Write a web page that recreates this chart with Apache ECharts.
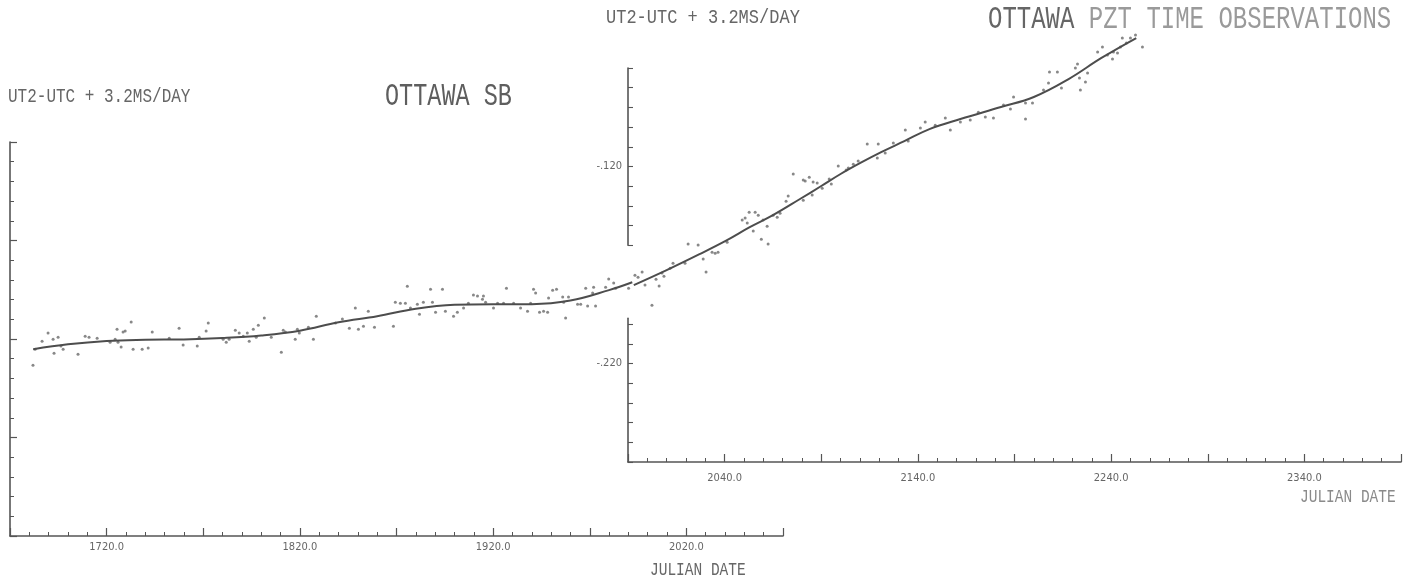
<!DOCTYPE html>
<html>
<head>
<meta charset="utf-8">
<title>Ottawa SB and PZT time observations</title>
<script src="https://cdn.jsdelivr.net/npm/echarts@6/dist/echarts.min.js"></script>
<style>
  html, body { margin: 0; padding: 0; background: #ffffff; }
  #chart { width: 1414px; height: 581px; }
</style>
</head>
<body>
<div id="chart"></div>
<script>
// ---- Ottawa SB (left panel): smoothed fit and individual nights ----
const sbFitDates  = [1682, 1700, 1720, 1740, 1760, 1780, 1800, 1820, 1840, 1860, 1880, 1900, 1920, 1940, 1960, 1980, 1992];
const sbFitValues = [-0.2052, -0.2027, -0.2010, -0.2004, -0.2002, -0.1995, -0.1982, -0.1958, -0.1915, -0.1884, -0.1846, -0.1826, -0.1823, -0.1823, -0.1805, -0.1752, -0.1712];

const sbObsDates = [
  1681.9, 1683.0, 1686.6, 1689.7, 1692.3, 1692.8, 1694.9, 1696.4, 1697.5, 1705.2,
  1708.9, 1710.9, 1715.1, 1721.8, 1724.4, 1725.4, 1725.9, 1727.5, 1728.5, 1729.6,
  1732.7, 1733.7, 1738.4, 1741.5, 1743.6, 1752.4, 1757.5, 1759.6, 1766.9, 1767.9,
  1771.5, 1772.6, 1780.3, 1781.9, 1783.4, 1786.6, 1788.6, 1790.7, 1792.8, 1793.8,
  1795.9, 1797.4, 1798.5, 1801.6, 1805.2, 1810.4, 1811.4, 1812.5, 1817.6, 1818.7,
  1819.7, 1824.4, 1827.0, 1828.5, 1838.4, 1842.0, 1845.6, 1848.7, 1850.3, 1852.9,
  1855.4, 1858.6, 1868.4, 1869.4, 1872.0, 1874.6, 1875.6, 1877.2, 1880.8, 1881.9,
  1883.9, 1887.6, 1888.6, 1890.2, 1893.8, 1895.3, 1899.5, 1901.5, 1904.7, 1907.2,
  1909.8, 1911.9, 1914.5, 1915.0, 1916.1, 1920.2, 1922.3, 1925.4, 1926.9, 1930.6,
  1934.2, 1937.8, 1939.4, 1940.9, 1942.0, 1944.0, 1946.1, 1948.2, 1948.7, 1950.8,
  1952.8, 1956.0, 1956.5, 1957.5, 1959.0, 1963.7, 1965.3, 1967.9, 1968.9, 1971.5,
  1972.0, 1973.0, 1978.2, 1979.8, 1982.4, 1983.4, 1990.1
];
const sbObsValues = [
  -0.2133, -0.2052, -0.2011, -0.1970, -0.2001, -0.2072, -0.1991, -0.2036, -0.2052, -0.2077,
  -0.1986, -0.1991, -0.1996, -0.2016, -0.2001, -0.1950, -0.2016, -0.2041, -0.1965, -0.1960,
  -0.1914, -0.2052, -0.2052, -0.2046, -0.1965, -0.1996, -0.1945, -0.2031, -0.2036, -0.1991,
  -0.1960, -0.1919, -0.2001, -0.2016, -0.2001, -0.1955, -0.1970, -0.1986, -0.1970, -0.2011,
  -0.1950, -0.1991, -0.1930, -0.1894, -0.1991, -0.2067, -0.1955, -0.1965, -0.2001, -0.1950,
  -0.1970, -0.1940, -0.2001, -0.1884, -0.1919, -0.1899, -0.1945, -0.1843, -0.1950, -0.1935,
  -0.1859, -0.1940, -0.1935, -0.1813, -0.1818, -0.1818, -0.1732, -0.1843, -0.1823, -0.1874,
  -0.1813, -0.1747, -0.1813, -0.1864, -0.1747, -0.1859, -0.1884, -0.1864, -0.1843, -0.1818,
  -0.1777, -0.1782, -0.1798, -0.1782, -0.1813, -0.1843, -0.1818, -0.1818, -0.1742, -0.1818,
  -0.1843, -0.1859, -0.1818, -0.1747, -0.1767, -0.1864, -0.1859, -0.1864, -0.1792, -0.1752,
  -0.1747, -0.1787, -0.1813, -0.1894, -0.1787, -0.1823, -0.1823, -0.1742, -0.1833, -0.1767,
  -0.1737, -0.1833, -0.1737, -0.1696, -0.1716, -0.1742, -0.1742
];

// ---- Ottawa PZT (right panel): smoothed fit and individual nights ----
const pztFitDates  = [1993, 2010, 2027, 2041, 2053, 2065, 2079, 2090, 2100, 2110, 2121, 2133, 2146, 2162, 2183, 2200, 2218, 2235, 2253];
const pztFitValues = [-0.1802, -0.1726, -0.1645, -0.1575, -0.1508, -0.1447, -0.1365, -0.1299, -0.1238, -0.1183, -0.1127, -0.1071, -0.1010, -0.0959, -0.0898, -0.0847, -0.0756, -0.0649, -0.0548];

const pztObsDates = [
  1993.6, 1995.2, 1997.3, 1998.8, 2002.4, 2004.5, 2006.1, 2007.6, 2008.6, 2011.8,
  2013.3, 2019.5, 2021.1, 2026.3, 2028.9, 2030.4, 2033.5, 2035.1, 2036.6, 2041.3,
  2049.1, 2050.6, 2051.7, 2052.7, 2054.8, 2055.8, 2057.4, 2059.0, 2059.9, 2062.0,
  2062.5, 2065.1, 2067.2, 2068.7, 2071.8, 2072.9, 2075.5, 2080.7, 2081.7, 2080.7,
  2083.8, 2085.3, 2085.8, 2087.9, 2090.5, 2094.1, 2095.2, 2098.8, 2102.9, 2104.0,
  2106.6, 2109.1, 2113.8, 2119.5, 2119.0, 2123.1, 2127.3, 2135.0, 2133.5, 2141.3,
  2143.8, 2149.0, 2154.2, 2156.8, 2162.0, 2167.1, 2171.3, 2174.9, 2179.1, 2184.3,
  2187.9, 2189.5, 2195.7, 2195.7, 2199.3, 2205.0, 2207.6, 2208.1, 2212.2, 2214.3,
  2221.5, 2222.6, 2223.6, 2224.1, 2226.7, 2227.8, 2233.0, 2235.5, 2238.1, 2240.7,
  2241.2, 2243.3, 2244.8, 2245.8, 2247.9, 2250.0, 2252.6, 2256.2
];
const pztObsValues = [
  -0.1752, -0.1762, -0.1736, -0.1802, -0.1904, -0.1772, -0.1807, -0.1741, -0.1757, -0.1716,
  -0.1691, -0.1691, -0.1594, -0.1599, -0.1670, -0.1736, -0.1635, -0.1640, -0.1635, -0.1584,
  -0.1472, -0.1462, -0.1487, -0.1432, -0.1528, -0.1432, -0.1447, -0.1569, -0.1472, -0.1503,
  -0.1594, -0.1447, -0.1457, -0.1437, -0.1376, -0.1350, -0.1238, -0.1269, -0.1274, -0.1371,
  -0.1254, -0.1345, -0.1279, -0.1284, -0.1310, -0.1264, -0.1289, -0.1198, -0.1218, -0.1208,
  -0.1188, -0.1172, -0.1086, -0.1086, -0.1157, -0.1132, -0.1081, -0.1071, -0.1015, -0.1005,
  -0.0974, -0.0990, -0.0954, -0.1015, -0.0974, -0.0964, -0.0924, -0.0949, -0.0954, -0.0888,
  -0.0908, -0.0847, -0.0878, -0.0959, -0.0878, -0.0812, -0.0776, -0.0720, -0.0720, -0.0802,
  -0.0700, -0.0680, -0.0751, -0.0812, -0.0771, -0.0725, -0.0619, -0.0593, -0.0634, -0.0654,
  -0.0619, -0.0624, -0.0593, -0.0548, -0.0573, -0.0548, -0.0532, -0.0593
];

// ---- axis ranges and labelled ticks ----
const sbDateRange   = [1670, 2070];
const pztDateRange  = [1990, 2390];
const sbValueRange  = [-0.30, -0.10];
const pztValueRange = [-0.27, -0.07];
const pztUpperRange = [-0.16, -0.07];   // y axis drawn above the curve crossing
const pztLowerRange = [-0.27, -0.197];  // y axis drawn below the curve crossing
const sbDateLabels  = [1720, 1820, 1920, 2020];
const pztDateLabels = [2040, 2140, 2240, 2340];
const pztValueLabels = [-0.12, -0.22];
const pztLowerTicks = [-0.27, -0.26, -0.25, -0.24, -0.23, -0.22, -0.21, -0.20];

const zip = (xs, ys) => xs.map((x, i) => [x, ys[i]]);
const has = (list, v) => list.some(t => Math.abs(t - v) < 1e-6);

const FONT = '"Liberation Mono", "DejaVu Sans Mono", monospace';
const TICK_FONT = '"DejaVu Sans Condensed", "Liberation Sans Narrow", "DejaVu Sans", sans-serif';
const INK = '#555555';
const TEXT = '#666666';
const PX_PER_SEC = 1970;
const PLOT_W = 773;

const sbGrid  = { left: 10,  top: 142, width: PLOT_W, height: (sbValueRange[1] - sbValueRange[0]) * PX_PER_SEC };
const pztGrid = { left: 628, top: 68,  width: PLOT_W, height: (pztValueRange[1] - pztValueRange[0]) * PX_PER_SEC };
const pztBottom = pztGrid.top + pztGrid.height;
const upperGrid = { left: pztGrid.left, top: pztGrid.top, width: 20,
  height: (pztUpperRange[1] - pztUpperRange[0]) * PX_PER_SEC };
const lowerH = (pztLowerRange[1] - pztLowerRange[0]) * PX_PER_SEC;
const lowerGrid = { left: pztGrid.left, top: pztBottom - lowerH, width: 20, height: lowerH };

const lineSty = { color: INK, width: 1.6 };

function dateAxis(gridIndex, range, labels, margin) {
  return {
    type: 'value', gridIndex, min: range[0], max: range[1], interval: 50,
    axisLine: { show: true, onZero: false, lineStyle: lineSty },
    axisTick: { show: true, inside: true, length: 8, lineStyle: { color: INK, width: 1.2 } },
    minorTick: { show: true, splitNumber: 5, length: 4, lineStyle: { color: INK, width: 1 } },
    splitLine: { show: false }, minorSplitLine: { show: false },
    axisLabel: {
      margin, color: '#666666', fontFamily: TICK_FONT, fontSize: 11, showMinLabel: true, showMaxLabel: true,
      formatter: v => has(labels, v) ? v.toFixed(1) : ''
    }
  };
}

const hiddenX = gi => ({ type: 'value', gridIndex: gi, min: 0, max: 1, show: false });
const valueLabel = v => v.toFixed(3).replace('0.', '.');

const option = {
  backgroundColor: '#ffffff',
  animation: false,
  grid: [
    Object.assign({ outerBoundsMode: 'none' }, sbGrid),
    Object.assign({ outerBoundsMode: 'none' }, pztGrid),
    Object.assign({ outerBoundsMode: 'none' }, upperGrid),
    Object.assign({ outerBoundsMode: 'none' }, lowerGrid)
  ],
  xAxis: [
    dateAxis(0, sbDateRange, sbDateLabels, 6),
    dateAxis(1, pztDateRange, pztDateLabels, 11),
    hiddenX(2),
    hiddenX(3)
  ],
  yAxis: [
    {
      type: 'value', gridIndex: 0, min: sbValueRange[0], max: sbValueRange[1], interval: 0.05,
      axisLine: { show: true, onZero: false, lineStyle: lineSty },
      axisTick: { show: true, inside: true, length: 7, lineStyle: { color: INK, width: 1.2 } },
      minorTick: { show: true, splitNumber: 5, length: 4, lineStyle: { color: INK, width: 1 } },
      splitLine: { show: false }, minorSplitLine: { show: false },
      axisLabel: { show: false }
    },
    { type: 'value', gridIndex: 1, min: pztValueRange[0], max: pztValueRange[1], show: false },
    {
      type: 'value', gridIndex: 2, min: pztUpperRange[0], max: pztUpperRange[1], interval: 0.01,
      axisLine: { show: true, onZero: false, lineStyle: lineSty },
      axisTick: { show: true, inside: true, length: 5, lineStyle: { color: INK, width: 1.1 } },
      splitLine: { show: false },
      axisLabel: {
        margin: 6, color: '#666666', fontFamily: TICK_FONT, fontSize: 11,
        formatter: v => has(pztValueLabels, v) ? valueLabel(v) : ''
      }
    },
    {
      type: 'value', gridIndex: 3, min: pztLowerRange[0], max: pztLowerRange[1],
      axisLine: { show: true, onZero: false, lineStyle: lineSty },
      axisTick: { show: true, inside: true, length: 5, customValues: pztLowerTicks, lineStyle: { color: INK, width: 1.1 } },
      splitLine: { show: false },
      axisLabel: {
        margin: 6, color: '#666666', fontFamily: TICK_FONT, fontSize: 11,
        customValues: pztValueLabels.filter(v => v >= pztLowerRange[0] && v <= pztLowerRange[1]),
        formatter: v => valueLabel(v)
      }
    }
  ],
  series: [
    {
      name: 'SB fit', type: 'line', xAxisIndex: 0, yAxisIndex: 0, clip: false,
      data: zip(sbFitDates, sbFitValues), smooth: 0.4, showSymbol: false, symbol: 'none',
      lineStyle: { color: '#4d4d4d', width: 2 }, z: 3
    },
    {
      name: 'SB nights', type: 'scatter', xAxisIndex: 0, yAxisIndex: 0, clip: false,
      data: zip(sbObsDates, sbObsValues), symbolSize: 3,
      itemStyle: { color: '#6a6a6a' }, z: 2
    },
    {
      name: 'PZT fit', type: 'line', xAxisIndex: 1, yAxisIndex: 1, clip: false,
      data: zip(pztFitDates, pztFitValues), smooth: 0.4, showSymbol: false, symbol: 'none',
      lineStyle: { color: '#4d4d4d', width: 2 }, z: 3
    },
    {
      name: 'PZT nights', type: 'scatter', xAxisIndex: 1, yAxisIndex: 1, clip: false,
      data: zip(pztObsDates, pztObsValues), symbolSize: 3,
      itemStyle: { color: '#6a6a6a' }, z: 2
    }
  ],
  graphic: []
};

// plotter-style lettering: monospaced glyphs stretched vertically
function label(text, x, y, size, stretch, fill) {
  return {
    type: 'text', x, y, scaleY: stretch, silent: true,
    style: { text, font: size + 'px ' + FONT, fill, align: 'left', verticalAlign: 'middle' }
  };
}
const bigSize = 24, adv = 0.6 * bigSize;
option.graphic = [
  label('UT2-UTC + 3.2MS/DAY', 8, 97, 16, 1.25, TEXT),
  label('OTTAWA SB', 385, 97, 23.5, 1.3, '#5e5e5e'),
  label('UT2-UTC + 3.2MS/DAY', 606, 18, 17, 1.2, TEXT),
  label('OTTAWA', 988, 20, bigSize, 1.3, '#666666'),
  label('PZT TIME OBSERVATIONS', 988 + 7 * adv, 20, bigSize, 1.3, '#9a9a9a'),
  label('JULIAN DATE', 650, 570, 14.5, 1.3, TEXT),
  label('JULIAN DATE', 1300, 497, 14.5, 1.3, '#8a8a8a')
];

const chart = echarts.init(document.getElementById('chart'), null, { renderer: 'canvas' });
chart.setOption(option);
</script>
</body>
</html>
